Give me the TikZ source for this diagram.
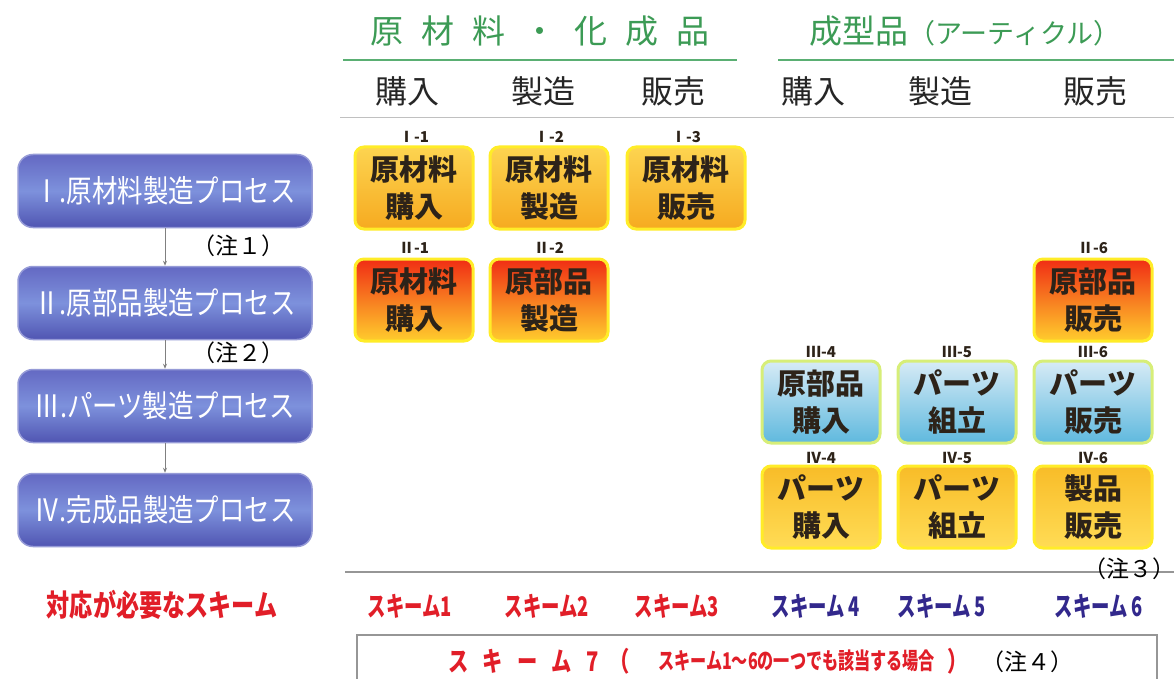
\documentclass[tikz,border=0pt]{standalone}
\usepackage{fontspec}
\usepackage{graphicx}
\setmainfont{Noto Sans CJK JP}
\usetikzlibrary{arrows.meta}
\definecolor{hdrgreen}{RGB}{60,155,85}
\definecolor{linegreen}{RGB}{90,175,115}
\definecolor{celltext}{RGB}{45,35,25}
\definecolor{glowY}{RGB}{255,236,40}
\definecolor{Iy}{RGB}{253,212,80}
\definecolor{Io}{RGB}{246,170,32}
\definecolor{IIr}{RGB}{240,45,20}
\definecolor{IIy}{RGB}{255,205,45}
\definecolor{IIIt}{RGB}{215,235,246}
\definecolor{IIIb}{RGB}{95,185,222}
\definecolor{IIIedge}{RGB}{215,238,120}
\definecolor{IVt}{RGB}{248,188,40}
\definecolor{IVb}{RGB}{255,220,85}
\definecolor{procT}{RGB}{100,105,195}
\definecolor{procM}{RGB}{125,145,220}
\definecolor{procB}{RGB}{80,85,178}
\definecolor{procEdge}{RGB}{150,155,215}
\definecolor{schred}{RGB}{225,30,40}
\definecolor{schblue}{RGB}{50,40,140}
\definecolor{gline}{RGB}{150,150,150}
\tikzset{
  cell/.style={rounded corners=9pt, minimum width=118pt, minimum height=82pt, line width=3pt,
    align=center, font=\fontsize{29}{37}\selectfont\bfseries, text=celltext, inner sep=0pt},
  rowI/.style={cell, draw=glowY, top color=Iy, bottom color=Io},
  rowII/.style={cell, draw=glowY, top color=IIr, bottom color=IIy},
  rowIII/.style={cell, draw=IIIedge, top color=IIIt, bottom color=IIIb},
  rowIV/.style={cell, draw=glowY, top color=IVt, bottom color=IVb},
  lab/.style={font=\fontsize{15}{15}\selectfont\bfseries, text=celltext, inner sep=0pt},
  proc/.style={rounded corners=15pt, minimum width=294pt, minimum height=73pt, draw=procEdge,
    line width=1.5pt, top color=procT, bottom color=procB, middle color=procM, text=white,
    font=\fontsize{31}{31}\selectfont, inner sep=0pt},
  note/.style={font=\fontsize{23}{23}\selectfont, text=black, inner sep=0pt},
  colhdr/.style={font=\fontsize{32}{32}\selectfont, text=black!85, inner sep=0pt},
  sch/.style={font=\fontsize{27}{27}\selectfont\bfseries, inner sep=0pt},
  parr/.style={draw=gray, line width=0.8pt, -{Stealth[length=5pt,width=4pt]}},
}
\begin{document}
\begin{tikzpicture}[x=1pt,y=-1pt]
\useasboundingbox (0,0) rectangle (1174,679);
\fill[white] (0,0) rectangle (1174,679);

% headers
\node[font=\fontsize{33}{33}\selectfont, text=hdrgreen, inner sep=0pt] (h1) at (540,31)
  {原\hspace{18pt}材\hspace{18pt}料\hspace{18pt}・\hspace{18pt}化\hspace{18pt}成\hspace{18pt}品};
\node[font=\fontsize{33}{33}\selectfont, text=hdrgreen, inner sep=0pt, anchor=west] (h2) at (809,31)
  {成型品{\fontsize{27}{27}\selectfont （アーティクル）}};
\draw[linegreen, line width=1.6pt] (343,60) -- (737,60);
\draw[linegreen, line width=1.6pt] (778,60) -- (1174,60);

\node[colhdr] (c1) at (407,91) {購入};
\node[colhdr] (c2) at (543,91) {製造};
\node[colhdr] (c3) at (673,91) {販売};
\node[colhdr] (c4) at (813,91) {購入};
\node[colhdr] (c5) at (940,91) {製造};
\node[colhdr] (c6) at (1095,91) {販売};
\draw[gline!60, line width=1pt] (340,118) -- (1174,118);

% process boxes
\node[proc] (p1) at (165,191) {\scalebox{0.82}[1]{Ⅰ.原材料製造プロセス}};
\node[proc] (p2) at (165,303) {\scalebox{0.82}[1]{Ⅱ.原部品製造プロセス}};
\node[proc] (p3) at (165,406) {\scalebox{0.82}[1]{Ⅲ.パーツ製造プロセス}};
\node[proc] (p4) at (165,510) {\scalebox{0.82}[1]{Ⅳ.完成品製造プロセス}};
\draw[parr] (p1) -- (p2);
\draw[parr] (p2) -- (p3);
\draw[parr] (p3) -- (p4);
\node[note] (n1) at (238,246) {（注１）};
\node[note] (n2) at (238,353) {（注２）};
\node[font=\fontsize{30}{30}\selectfont\bfseries, text=schred, inner sep=0pt] (need) at (162,605)
  {\scalebox{0.77}[1]{対応が必要なスキーム}};

% row I
\node[lab] (lI1) at (414,137) {Ⅰ-1};
\node[lab] (lI2) at (549,137) {Ⅰ-2};
\node[lab] (lI3) at (686,137) {Ⅰ-3};
\node[rowI] (I1) at (414,188) {原材料\\購入};
\node[rowI] (I2) at (549,188) {原材料\\製造};
\node[rowI] (I3) at (686,188) {原材料\\販売};
% row II
\node[lab] (lII1) at (414,248) {Ⅱ-1};
\node[lab] (lII2) at (549,248) {Ⅱ-2};
\node[lab] (lII6) at (1093,248) {Ⅱ-6};
\node[rowII] (II1) at (414,300) {原材料\\購入};
\node[rowII] (II2) at (549,300) {原部品\\製造};
\node[rowII] (II6) at (1093,300) {原部品\\販売};
% row III
\node[lab] (lIII4) at (821,352) {Ⅲ-4};
\node[lab] (lIII5) at (957,352) {Ⅲ-5};
\node[lab] (lIII6) at (1093,352) {Ⅲ-6};
\node[rowIII] (III4) at (821,402) {原部品\\購入};
\node[rowIII] (III5) at (957,402) {パーツ\\組立};
\node[rowIII] (III6) at (1093,402) {パーツ\\販売};
% row IV
\node[lab] (lIV4) at (821,458) {Ⅳ-4};
\node[lab] (lIV5) at (957,458) {Ⅳ-5};
\node[lab] (lIV6) at (1093,458) {Ⅳ-6};
\node[rowIV] (IV4) at (821,507) {パーツ\\購入};
\node[rowIV] (IV5) at (957,507) {パーツ\\組立};
\node[rowIV] (IV6) at (1093,507) {製品\\販売};

% bottom
\draw[gline, line width=1.5pt] (345,572) -- (1174,572);
\node[note, anchor=east] (n3) at (1176,569) {（注３）};
\node[sch, text=schred] (s1) at (410,606) {\scalebox{0.68}[1]{スキーム1}};
\node[sch, text=schred] (s2) at (547,606) {\scalebox{0.68}[1]{スキーム2}};
\node[sch, text=schred] (s3) at (677,606) {\scalebox{0.68}[1]{スキーム3}};
\node[sch, text=schblue] (s4) at (816,606) {\scalebox{0.68}[1]{スキーム 4}};
\node[sch, text=schblue] (s5) at (942,606) {\scalebox{0.68}[1]{スキーム 5}};
\node[sch, text=schblue] (s6) at (1099,606) {\scalebox{0.68}[1]{スキーム 6}};
\draw[gline, line width=1.5pt] (357,692) -- (357,635) -- (1157,635) -- (1157,692);
\node[font=\fontsize{27}{27}\selectfont\bfseries, text=schred, inner sep=0pt, anchor=west] (s7a) at (448,661)
  {\scalebox{0.75}[1]{ス\hspace{19pt}キ\hspace{19pt}ー\hspace{19pt}ム\hspace{19pt}7\hspace{14pt}（}};
\node[font=\fontsize{23}{23}\selectfont\bfseries, text=schred, inner sep=0pt, anchor=west] (s7b) at (658,661)
  {\scalebox{0.7}[1]{スキーム1～6の一つでも該当する場合}};
\node[font=\fontsize{27}{27}\selectfont\bfseries, text=schred, inner sep=0pt] (s7c) at (958,661)
  {\scalebox{0.75}[1]{）}};
\node[note] (n4) at (1027,662) {（注４）};
\end{tikzpicture}
\end{document}
